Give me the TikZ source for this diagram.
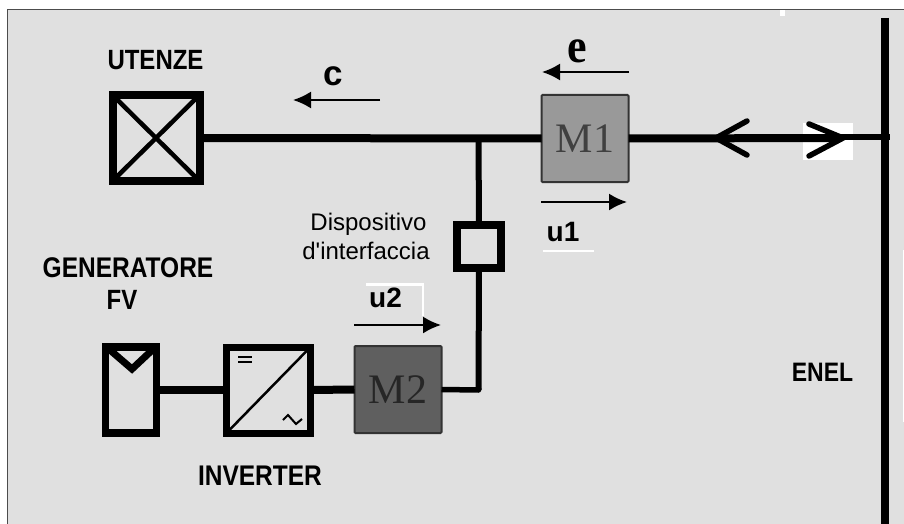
\documentclass[tikz,border=0pt]{standalone}
\usepackage{fontspec}
\setmainfont{Liberation Serif}
\setsansfont{Liberation Sans}
\usetikzlibrary{arrows.meta}
\definecolor{bgc}{HTML}{E0E0E0}
\definecolor{mone}{HTML}{999999}
\definecolor{mtwo}{HTML}{5F5F5F}
\newcommand{\tallb}[1]{\scalebox{1}[1.16]{\sffamily\bfseries #1}}
\tikzset{
  wire/.style={line width=8pt,black},
  thinwire/.style={line width=5.5pt,black},
  sym/.style={draw=black,line width=8pt,fill=bgc,inner sep=0pt,outer sep=0pt,rectangle},
  meter/.style={draw=black!80,line width=2pt,rounded corners=1pt,inner sep=0pt,outer sep=0pt,minimum width=87pt,minimum height=87pt,font=\fontsize{42}{42}\selectfont},
  flow/.style={line width=2pt,black,-{Latex[length=18pt,width=17pt]}},
  barb/.style={line width=5.5pt,black,line cap=round,line join=miter},
  lab/.style={inner sep=0pt,outer sep=0pt,font=\fontsize{24}{24}\selectfont},
  plainlab/.style={inner sep=0pt,outer sep=0pt,font=\fontsize{24}{24}\selectfont\sffamily},
  ulab/.style={inner sep=0pt,outer sep=0pt,font=\fontsize{28}{28}\selectfont\sffamily\bfseries},
  whitemark/.style={white,line width=2.5pt}
}
\begin{document}
\begin{tikzpicture}[x=1pt,y=-1pt]
\useasboundingbox (0,0) rectangle (904,524);
\fill[white] (0,0) rectangle (904,524);
\fill[bgc] (7.5,10) rectangle (904,524);
\draw[black!70,line width=1pt] (7.5,524) -- (7.5,10) -- (904,10);
\fill[white] (780,10.5) rectangle (785,16);
\fill[white] (902.8,250) rectangle (904,422);
% symbols
\node[sym,minimum width=87pt,minimum height=86pt] (ut) at (156,138) {};
\draw[line width=4.5pt] (ut.north west) -- (ut.south east) (ut.north east) -- (ut.south west);
\node[meter,fill=mone,text=black!75] (m1) at (585,138.5) {M1};
\node[meter,fill=mtwo,text=black!85] (m2) at (398,389.5) {M2};
\node[sym,minimum width=44pt,minimum height=43pt] (dev) at (479,246.5) {};
\node[sym,minimum width=51pt,minimum height=86pt,line width=7.5pt] (pv) at (131,390) {};
\draw[line width=7pt,miter limit=2] ([xshift=1pt]pv.north west) -- (132,369) -- ([xshift=-1pt]pv.north east);
\node[sym,minimum width=84pt,minimum height=86pt,line width=7pt] (inv) at (268.5,390) {};
\draw[line width=2.5pt] (inv.south west) -- (inv.north east);
\draw[line width=2pt] (238,357) -- (252,357) (238,362) -- (252,362);
\draw[line width=2pt] (283,420) -- (288,415) -- (296,424) -- (302,419);
% bus and junctions
\coordinate (bt) at (885,18);
\coordinate (bb) at (885,524);
\coordinate (bj) at (885,137);
\coordinate (j1) at (478.5,138);
\coordinate (j2) at (478.5,390);
\fill[white] (803,123) rectangle (853,160);
\draw[line width=8pt] (bt) -- (bb);
\draw[wire] (ut.east) -- (m1.west);
\draw[wire] (m1.east) -- (840,138);
\draw[line width=5.5pt] (840,137) -- (bj) -- ++(5,0);
\draw[line width=6pt] (j1) -- (dev.north);
\draw[line width=6pt] (dev.south) -- (j2);
\draw[thinwire,line join=round] (m2.east) -- (j2) -- ++(0,-2);
\draw[wire] (pv.east) -- (inv.west);
\draw[wire] (inv.east) -- (m2.west);
% double barbs
\coordinate (la) at (716,138);
\coordinate (ra) at (843,138);
\draw[barb] (747,121) -- (la) -- (747,155);
\draw[barb] (809,124) -- (ra) -- (809,156);
% flow arrows
\draw[flow] (380,100) -- (293,100);
\draw[flow] (629,72) -- (542,72);
\draw[flow] (541,202) -- (627,202);
\draw[flow] (354,325) -- (441,325);
% white marks
\draw[whitemark] (543,251) -- (594,251);
\draw[whitemark] (366,284.5) -- (423,284.5) -- (423,316);
% labels
\node[lab] at (155.5,60) {\tallb{UTENZE}};
\node[lab,font=\fontsize{35}{35}\selectfont\sffamily\bfseries] at (333.5,76) {c};
\node[lab,font=\fontsize{44}{44}\selectfont\bfseries] at (577,51) {\scalebox{1}[1.1]{e}};
\node[ulab] at (563,232.5) {u1};
\node[ulab] at (385.5,298) {u2};
\node[plainlab] at (368.5,224) {Dispositivo};
\node[plainlab] at (366,251) {d\textquotesingle interfaccia};
\node[lab,font=\fontsize{24.5}{24.5}\selectfont] at (128,268) {\tallb{GENERATORE}};
\node[lab] at (122,299.5) {\tallb{FV}};
\node[lab,font=\fontsize{24.5}{24.5}\selectfont] at (260,476) {\tallb{INVERTER}};
\node[lab,font=\fontsize{23}{23}\selectfont] at (822.5,372) {\tallb{ENEL}};
\end{tikzpicture}
\end{document}
